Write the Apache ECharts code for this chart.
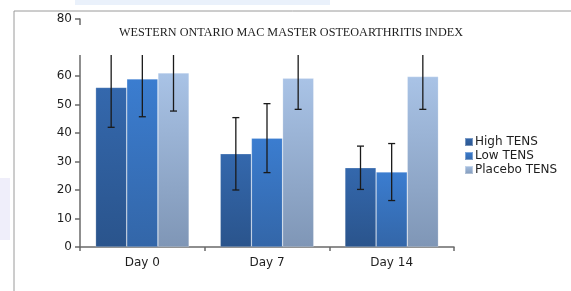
<!DOCTYPE html>
<html>
<head>
    <meta charset="utf-8">
    <title>WOMAC index</title>
    <style>
        html, body { margin: 0; padding: 0; background: #fff; }
        #container { width: 571px; height: 291px; }
    </style>
</head>
<body>
<div id="container"></div>
<script src="https://cdn.jsdelivr.net/npm/echarts@6/dist/echarts.min.js"></script>
<script type="text/javascript">
    // data
    var days = ['Day 0', 'Day 7', 'Day 14'];
    var seriesNames = ['High TENS', 'Low TENS', 'Placebo TENS'];
    var highTens = [56.0, 32.7, 27.8];
    var highErr = [14.0, 12.7, 7.6];
    var lowTens = [59.0, 38.2, 26.3];
    var lowErr = [13.3, 12.1, 10.0];
    var placeboTens = [61.1, 59.2, 59.8];
    var placeboErr = [13.4, 10.9, 11.5];
    var yTicks = [0, 10, 20, 30, 40, 50, 60, 70, 80];

    var values = [highTens, lowTens, placeboTens];
    var errors = [highErr, lowErr, placeboErr];

    function grad(top, bottom) {
        return new echarts.graphic.LinearGradient(0, 0, 0, 1, [
            {offset: 0, color: top},
            {offset: 1, color: bottom}
        ]);
    }
    var colors = [
        grad('#3468ad', '#2a548c'),
        grad('#3b7dd0', '#3366a8'),
        grad('#a9c3e6', '#7f96b6')
    ];

    var myChart = echarts.init(document.getElementById('container'));

    var series = [];
    values.forEach(function (vals, i) {
        series.push({
            name: seriesNames[i],
            type: 'bar',
            data: vals,
            barGap: 0,
            barCategoryGap: '25%',
            itemStyle: {
                color: colors[i],
                borderColor: 'rgba(255,255,255,0.35)',
                borderWidth: 0.6
            }
        });
    });
    // error bars
    values.forEach(function (vals, i) {
        var errData = vals.map(function (v, k) {
            return [k, v - errors[i][k], v + errors[i][k]];
        });
        series.push({
            type: 'custom',
            z: 5,
            silent: true,
            renderItem: function (params, api) {
                var cat = api.value(0);
                var lo = api.coord([cat, api.value(1)]);
                var hi = api.coord([cat, api.value(2)]);
                var bw = api.size([1, 0])[0] * 0.75 / 3;
                var x = lo[0] + (i - 1) * bw;
                var cap = 3.5;
                var st = {stroke: '#1a1a1a', lineWidth: 1.3};
                return {
                    type: 'group',
                    children: [
                        {type: 'line', shape: {x1: x, y1: lo[1], x2: x, y2: hi[1]}, style: st},
                        {type: 'line', shape: {x1: x - cap, y1: lo[1], x2: x + cap, y2: lo[1]}, style: st},
                        {type: 'line', shape: {x1: x - cap, y1: hi[1], x2: x + cap, y2: hi[1]}, style: st}
                    ]
                };
            },
            encode: {x: 0, y: [1, 2]},
            data: errData
        });
    });

    var option = {
        animation: false,
        title: {
            text: 'WESTERN ONTARIO MAC MASTER OSTEOARTHRITIS INDEX',
            left: 286,
            textAlign: 'center',
            top: 22,
            z: 100,
            textStyle: {
                fontFamily: 'Liberation Serif',
                fontWeight: 'normal',
                fontSize: 12.2,
                color: '#1e1e1e'
            }
        },
        legend: {
            data: seriesNames,
            orient: 'vertical',
            left: 459,
            top: 131,
            itemWidth: 8,
            itemHeight: 8,
            itemGap: 2,
            icon: 'rect',
            textStyle: {
                fontFamily: 'DejaVu Sans',
                fontSize: 12,
                color: '#1e1e1e',
                padding: [0, 0, 0, -3]
            }
        },
        grid: {
            left: 80,
            right: 117,
            top: 19,
            bottom: 44
        },
        xAxis: {
            type: 'category',
            data: days,
            axisLine: {lineStyle: {color: '#6a6a6a', width: 1.5}},
            axisTick: {show: true, interval: 0, length: 4, lineStyle: {color: '#6a6a6a', width: 1.5}},
            axisLabel: {
                fontFamily: 'DejaVu Sans',
                fontSize: 12,
                color: '#1e1e1e',
                margin: 10
            }
        },
        yAxis: {
            type: 'value',
            min: yTicks[0],
            max: yTicks[yTicks.length - 1],
            interval: 10,
            splitLine: {show: false},
            axisLine: {show: true, lineStyle: {color: '#6a6a6a', width: 1.5}},
            axisTick: {show: true, length: 5, lineStyle: {color: '#6a6a6a', width: 1.5}},
            axisLabel: {
                fontFamily: 'DejaVu Sans',
                fontSize: 12,
                color: '#1e1e1e',
                margin: 8
            }
        },
        graphic: [
            // page frame and faint background
            {type: 'rect', z: 0, shape: {x: 75, y: 0, width: 255, height: 5}, style: {fill: '#eaf1fb'}},
            {type: 'rect', z: 0, shape: {x: 0, y: 178, width: 10, height: 62}, style: {fill: '#efeefa'}},
            {type: 'line', z: 1, shape: {x1: 14, y1: 11, x2: 571, y2: 11}, style: {stroke: '#9a9a9a', lineWidth: 1}},
            {type: 'line', z: 1, shape: {x1: 14, y1: 11, x2: 14, y2: 291}, style: {stroke: '#9a9a9a', lineWidth: 1}},
            // white title box that hides the top of the plot
            {type: 'rect', z: 50, shape: {x: 30, y: 25, width: 536, height: 30}, style: {fill: '#fff'}}
        ],
        series: series
    };

    myChart.setOption(option);
</script>
</body>
</html>
